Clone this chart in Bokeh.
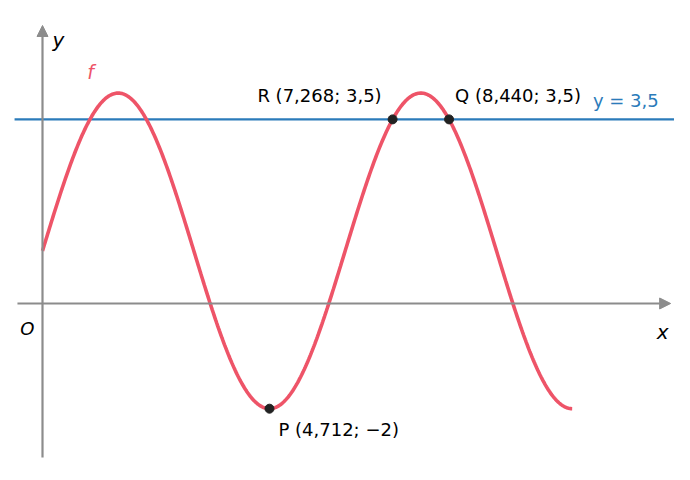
import numpy as np
from bokeh.plotting import figure
from bokeh.models import Range1d, Label, Arrow, NormalHead
from bokeh.embed import file_html
from bokeh.resources import INLINE

# function f(x) = offset + amplitude * sin(x) on [0, 7*pi/2]
amplitude = 3.0
offset = 1.0
x_start = 0.0
x_end = 3.5 * np.pi

# horizontal line level
level = 3.5

# marked points
pt_names = ["P", "R", "Q"]
pt_x = [4.712, 7.268, 8.440]
pt_y = [-2.0, 3.5, 3.5]
pt_labels = ["P (4,712; \u22122)", "R (7,268; 3,5)", "Q (8,440; 3,5)"]

xs = np.linspace(x_start, x_end, 600)
ys = offset + amplitude * np.sin(xs)

FONT = "DejaVu Sans"
RED = "#ee5468"
BLUE = "#2b7bba"
GRAY = "#8c8c8c"

p = figure(width=674, height=464, output_backend="svg", toolbar_location=None,
           x_range=Range1d(-0.872, 13.12), y_range=Range1d(-3.061, 5.760),
           min_border=0)
p.axis.visible = False
p.grid.visible = False
p.outline_line_color = None
p.background_fill_color = "white"

# axes with arrows
p.add_layout(Arrow(end=NormalHead(size=11, fill_color=GRAY, line_color=GRAY),
                   x_start=-0.52, y_start=0, x_end=13.04, y_end=0,
                   line_color=GRAY, line_width=2.2))
p.add_layout(Arrow(end=NormalHead(size=11, fill_color=GRAY, line_color=GRAY),
                   x_start=0, y_start=-2.93, x_end=0, y_end=5.285,
                   line_color=GRAY, line_width=2.2))

# horizontal line y = 3.5
p.line([-0.58, 13.2], [level, level], line_color=BLUE, line_width=2.3)

# curve
p.line(xs, ys, line_color=RED, line_width=3.6)

# points
p.scatter(pt_x, pt_y, size=9, fill_color="#222222", line_color="#222222")

def lab(text, x, y, xo, yo, align, color="black", size="18px", style="normal"):
    p.add_layout(Label(x=x, y=y, x_offset=xo, y_offset=yo, text=text,
                       text_align=align, text_baseline="middle",
                       text_font=FONT, text_font_size=size,
                       text_font_style=style, text_color=color))

# point labels
lab(pt_labels[0], pt_x[0], pt_y[0], 9, -21, "left")
lab(pt_labels[1], pt_x[1], pt_y[1], -11, 24, "right")
lab(pt_labels[2], pt_x[2], pt_y[2], 6, 24, "left")

# line label
lab("y = 3,5", 13.0, level, -10, 19, "right", color=BLUE, size="18px")

# axis labels
lab("y", 0, 5.285, 10, -15, "left", size="20px", style="italic")
lab("x", 13.04, 0, -2, -29, "right", size="20px", style="italic")
lab("O", 0, 0, -8, -25, "right", size="18px", style="italic")
lab("f", 1.0, 4.4, 0, 0, "center", color=RED, size="19px", style="italic")

open("out.html", "w").write(file_html(p, INLINE))
